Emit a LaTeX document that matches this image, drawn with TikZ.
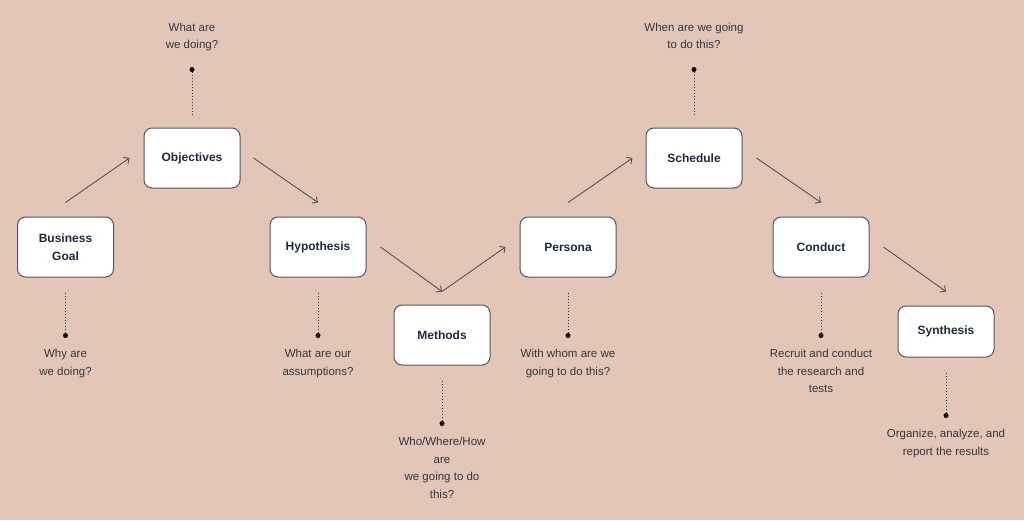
\documentclass[tikz,border=0pt]{standalone}
\usepackage{fontspec}
\setmainfont{Liberation Sans}
\usetikzlibrary{positioning,arrows.meta}

\definecolor{peach}{HTML}{E3C6B7}
\definecolor{boxline}{HTML}{50555C}
\definecolor{labelink}{HTML}{1F2A3A}
\definecolor{noteink}{HTML}{33383F}

\begin{document}
\begin{tikzpicture}[x=1pt,y=-1pt,
    stepbox/.style={draw=boxline, line width=1pt, fill=white, rounded corners=8pt,
        minimum width=96pt, minimum height=60pt, align=center, text=labelink,
        font=\fontsize{12}{18}\selectfont\bfseries},
    note/.style={align=center, text=noteink, inner sep=0pt,
        font=\fontsize{11.5}{17.5}\selectfont},
    flow/.style={draw=boxline, line width=0.9pt, -{Straight Barb[length=4pt,width=8pt]}},
    dotline/.style={draw=noteink, line width=1pt, dash pattern=on 1pt off 2pt},
    pin/.style={fill=black}]

    % background and page size
    \fill[peach] (0,0) rectangle (1024,520);

    % the steps
    \node[stepbox] (goal) at (65.5,247) {Business\\Goal};
    \node[stepbox] (obj) at (192,158) {Objectives};
    \node[stepbox] (hyp) at (318,247) {Hypothesis};
    \node[stepbox] (meth) at (442,335) {Methods};
    \node[stepbox] (pers) at (568,247) {Persona};
    \node[stepbox] (sched) at (694,158) {Schedule};
    \node[stepbox] (cond) at (821,247) {Conduct};
    \node[stepbox, minimum height=51pt] (synth) at (946,331.5) {Synthesis};

    % arrows between the steps
    \draw[flow] ([yshift=14pt]goal.north) -- ([xshift=-14pt]obj.west);
    \draw[flow] ([xshift=13pt]obj.east) -- ([yshift=14pt]hyp.north);
    \draw[flow] ([xshift=14pt]hyp.east) -- ([yshift=13pt]meth.north);
    \draw[flow] ([yshift=13pt]meth.north) -- ([xshift=-14pt]pers.west);
    \draw[flow] ([yshift=14pt]pers.north) -- ([xshift=-13pt]sched.west);
    \draw[flow] ([xshift=14pt]sched.east) -- ([yshift=14pt]cond.north);
    \draw[flow] ([xshift=14pt]cond.east) -- ([yshift=14pt]synth.north);

    % questions above the steps
    \coordinate (objdot) at ([yshift=58pt]obj.north);
    \coordinate (scheddot) at ([yshift=58pt]sched.north);
    \draw[dotline] ([yshift=13pt]obj.north) -- (objdot);
    \draw[dotline] ([yshift=13pt]sched.north) -- (scheddot);
    \fill[pin] (objdot) circle (2.5pt);
    \fill[pin] (scheddot) circle (2.5pt);
    \node[note, anchor=north] (objnote) at ([yshift=47pt]objdot) {What are\\we doing?};
    \node[note, anchor=north] (schednote) at ([yshift=47pt]scheddot) {When are we going\\to do this?};

    % questions below the steps
    \coordinate (goaldot) at ([yshift=-58pt]goal.south);
    \coordinate (hypdot) at ([yshift=-58pt]hyp.south);
    \coordinate (methdot) at ([yshift=-58pt]meth.south);
    \coordinate (persdot) at ([yshift=-58pt]pers.south);
    \coordinate (conddot) at ([yshift=-58pt]cond.south);
    \coordinate (synthdot) at ([yshift=-58pt]synth.south);
    \foreach \s in {goal,hyp,meth,pers,cond,synth}{
        \draw[dotline] ([yshift=-15pt]\s.south) -- (\s dot);
        \fill[pin] (\s dot) circle (2.5pt);
    }
    \node[note, below=13.5pt of goaldot] (goalnote) {Why are\\we doing?};
    \node[note, below=13.5pt of hypdot] (hypnote) {What are our\\assumptions?};
    \node[note, below=13.5pt of methdot] (methnote) {Who/Where/How\\are\\we going to do\\this?};
    \node[note, below=13.5pt of persdot] (persnote) {With whom are we\\going to do this?};
    \node[note, below=13.5pt of conddot] (condnote) {Recruit and conduct\\the research and\\tests};
    \node[note, below=13.5pt of synthdot] (synthnote) {Organize, analyze, and\\report the results};

\end{tikzpicture}
\end{document}
